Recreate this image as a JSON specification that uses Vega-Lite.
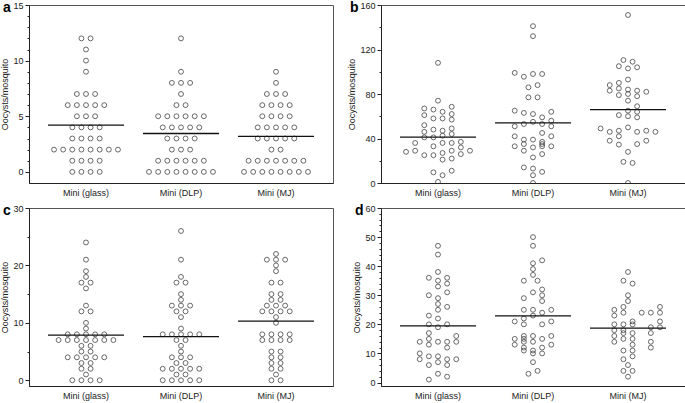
{
  "$schema": "https://vega.github.io/schema/vega-lite/v6.json",
  "background": "white",
  "padding": {"left": 0, "top": 0, "right": 0, "bottom": 0},
  "config": {
    "font": "Liberation Sans",
    "view": {"stroke": "#555", "strokeWidth": 1},
    "axis": {"labelFont": "Liberation Sans", "titleFont": "Liberation Sans", "labelFontSize": 9, "titleFontSize": 9, "titleFontWeight": "normal", "labelColor": "#222", "titleColor": "#222", "domainColor": "#222", "tickColor": "#222", "grid": false, "labelOverlap": false},
    "title": {"font": "Liberation Sans", "fontSize": 14, "fontWeight": "bold", "color": "#000", "anchor": "start", "frame": "bounds", "offset": -14, "dx": 2}
  },
  "datasets": {
    "means": [
      {"p": "a", "g": "Mini (glass)", "m": 4.2}, {"p": "a", "g": "Mini (DLP)", "m": 3.45}, {"p": "a", "g": "Mini (MJ)", "m": 3.2},
      {"p": "b", "g": "Mini (glass)", "m": 41.3}, {"p": "b", "g": "Mini (DLP)", "m": 54}, {"p": "b", "g": "Mini (MJ)", "m": 66},
      {"p": "c", "g": "Mini (glass)", "m": 7.86}, {"p": "c", "g": "Mini (DLP)", "m": 7.6}, {"p": "c", "g": "Mini (MJ)", "m": 10.3},
      {"p": "d", "g": "Mini (glass)", "m": 19.5}, {"p": "d", "g": "Mini (DLP)", "m": 22.9}, {"p": "d", "g": "Mini (MJ)", "m": 18.7}
    ],
    "a": [
      {"g": "Mini (glass)", "v": 12, "c": -0.5}, {"g": "Mini (glass)", "v": 12, "c": 0.5},
      {"g": "Mini (glass)", "v": 11, "c": 0}, {"g": "Mini (glass)", "v": 10, "c": 0}, {"g": "Mini (glass)", "v": 9, "c": 0},
      {"g": "Mini (glass)", "v": 7, "c": -1}, {"g": "Mini (glass)", "v": 7, "c": 0}, {"g": "Mini (glass)", "v": 7, "c": 1},
      {"g": "Mini (glass)", "v": 6, "c": -2}, {"g": "Mini (glass)", "v": 6, "c": -1}, {"g": "Mini (glass)", "v": 6, "c": 0}, {"g": "Mini (glass)", "v": 6, "c": 1}, {"g": "Mini (glass)", "v": 6, "c": 2},
      {"g": "Mini (glass)", "v": 5, "c": -1}, {"g": "Mini (glass)", "v": 5, "c": 0}, {"g": "Mini (glass)", "v": 5, "c": 1},
      {"g": "Mini (glass)", "v": 4, "c": -1.5}, {"g": "Mini (glass)", "v": 4, "c": -0.5}, {"g": "Mini (glass)", "v": 4, "c": 0.5}, {"g": "Mini (glass)", "v": 4, "c": 1.5},
      {"g": "Mini (glass)", "v": 3, "c": -1.5}, {"g": "Mini (glass)", "v": 3, "c": -0.5}, {"g": "Mini (glass)", "v": 3, "c": 0.5}, {"g": "Mini (glass)", "v": 3, "c": 1.5},
      {"g": "Mini (glass)", "v": 2, "c": -3.5}, {"g": "Mini (glass)", "v": 2, "c": -2.5}, {"g": "Mini (glass)", "v": 2, "c": -1.5}, {"g": "Mini (glass)", "v": 2, "c": -0.5}, {"g": "Mini (glass)", "v": 2, "c": 0.5}, {"g": "Mini (glass)", "v": 2, "c": 1.5}, {"g": "Mini (glass)", "v": 2, "c": 2.5}, {"g": "Mini (glass)", "v": 2, "c": 3.5},
      {"g": "Mini (glass)", "v": 1, "c": -1.5}, {"g": "Mini (glass)", "v": 1, "c": -0.5}, {"g": "Mini (glass)", "v": 1, "c": 0.5}, {"g": "Mini (glass)", "v": 1, "c": 1.5},
      {"g": "Mini (glass)", "v": 0, "c": -1.5}, {"g": "Mini (glass)", "v": 0, "c": -0.5}, {"g": "Mini (glass)", "v": 0, "c": 0.5}, {"g": "Mini (glass)", "v": 0, "c": 1.5},
      {"g": "Mini (DLP)", "v": 12, "c": 0}, {"g": "Mini (DLP)", "v": 9, "c": 0},
      {"g": "Mini (DLP)", "v": 8, "c": -1}, {"g": "Mini (DLP)", "v": 8, "c": 0}, {"g": "Mini (DLP)", "v": 8, "c": 1},
      {"g": "Mini (DLP)", "v": 7, "c": 0},
      {"g": "Mini (DLP)", "v": 6, "c": -0.5}, {"g": "Mini (DLP)", "v": 6, "c": 0.5},
      {"g": "Mini (DLP)", "v": 5, "c": -2.5}, {"g": "Mini (DLP)", "v": 5, "c": -1.5}, {"g": "Mini (DLP)", "v": 5, "c": -0.5}, {"g": "Mini (DLP)", "v": 5, "c": 0.5}, {"g": "Mini (DLP)", "v": 5, "c": 1.5}, {"g": "Mini (DLP)", "v": 5, "c": 2.5},
      {"g": "Mini (DLP)", "v": 4, "c": -2}, {"g": "Mini (DLP)", "v": 4, "c": -1}, {"g": "Mini (DLP)", "v": 4, "c": 0}, {"g": "Mini (DLP)", "v": 4, "c": 1}, {"g": "Mini (DLP)", "v": 4, "c": 2},
      {"g": "Mini (DLP)", "v": 3, "c": -1.5}, {"g": "Mini (DLP)", "v": 3, "c": -0.5}, {"g": "Mini (DLP)", "v": 3, "c": 0.5}, {"g": "Mini (DLP)", "v": 3, "c": 1.5},
      {"g": "Mini (DLP)", "v": 2, "c": -1}, {"g": "Mini (DLP)", "v": 2, "c": 0}, {"g": "Mini (DLP)", "v": 2, "c": 1},
      {"g": "Mini (DLP)", "v": 1, "c": -2.5}, {"g": "Mini (DLP)", "v": 1, "c": -1.5}, {"g": "Mini (DLP)", "v": 1, "c": -0.5}, {"g": "Mini (DLP)", "v": 1, "c": 0.5}, {"g": "Mini (DLP)", "v": 1, "c": 1.5}, {"g": "Mini (DLP)", "v": 1, "c": 2.5},
      {"g": "Mini (DLP)", "v": 0, "c": -3.5}, {"g": "Mini (DLP)", "v": 0, "c": -2.5}, {"g": "Mini (DLP)", "v": 0, "c": -1.5}, {"g": "Mini (DLP)", "v": 0, "c": -0.5}, {"g": "Mini (DLP)", "v": 0, "c": 0.5}, {"g": "Mini (DLP)", "v": 0, "c": 1.5}, {"g": "Mini (DLP)", "v": 0, "c": 2.5}, {"g": "Mini (DLP)", "v": 0, "c": 3.5},
      {"g": "Mini (MJ)", "v": 9, "c": 0}, {"g": "Mini (MJ)", "v": 8, "c": 0},
      {"g": "Mini (MJ)", "v": 7, "c": -1}, {"g": "Mini (MJ)", "v": 7, "c": 0}, {"g": "Mini (MJ)", "v": 7, "c": 1},
      {"g": "Mini (MJ)", "v": 6, "c": -1.5}, {"g": "Mini (MJ)", "v": 6, "c": -0.5}, {"g": "Mini (MJ)", "v": 6, "c": 0.5}, {"g": "Mini (MJ)", "v": 6, "c": 1.5},
      {"g": "Mini (MJ)", "v": 5, "c": -1.5}, {"g": "Mini (MJ)", "v": 5, "c": -0.5}, {"g": "Mini (MJ)", "v": 5, "c": 0.5}, {"g": "Mini (MJ)", "v": 5, "c": 1.5},
      {"g": "Mini (MJ)", "v": 4, "c": -2}, {"g": "Mini (MJ)", "v": 4, "c": -1}, {"g": "Mini (MJ)", "v": 4, "c": 0}, {"g": "Mini (MJ)", "v": 4, "c": 1}, {"g": "Mini (MJ)", "v": 4, "c": 2},
      {"g": "Mini (MJ)", "v": 3, "c": -2}, {"g": "Mini (MJ)", "v": 3, "c": -1}, {"g": "Mini (MJ)", "v": 3, "c": 0}, {"g": "Mini (MJ)", "v": 3, "c": 1}, {"g": "Mini (MJ)", "v": 3, "c": 2},
      {"g": "Mini (MJ)", "v": 2, "c": -0.5}, {"g": "Mini (MJ)", "v": 2, "c": 0.5},
      {"g": "Mini (MJ)", "v": 1, "c": -3}, {"g": "Mini (MJ)", "v": 1, "c": -2}, {"g": "Mini (MJ)", "v": 1, "c": -1}, {"g": "Mini (MJ)", "v": 1, "c": 0}, {"g": "Mini (MJ)", "v": 1, "c": 1}, {"g": "Mini (MJ)", "v": 1, "c": 2}, {"g": "Mini (MJ)", "v": 1, "c": 3},
      {"g": "Mini (MJ)", "v": 0, "c": -3.5}, {"g": "Mini (MJ)", "v": 0, "c": -2.5}, {"g": "Mini (MJ)", "v": 0, "c": -1.5}, {"g": "Mini (MJ)", "v": 0, "c": -0.5}, {"g": "Mini (MJ)", "v": 0, "c": 0.5}, {"g": "Mini (MJ)", "v": 0, "c": 1.5}, {"g": "Mini (MJ)", "v": 0, "c": 2.5}, {"g": "Mini (MJ)", "v": 0, "c": 3.5}
    ],
    "b": [
      {"g": "Mini (glass)", "v": 108, "c": 0}, {"g": "Mini (glass)", "v": 74, "c": 0},
      {"g": "Mini (glass)", "v": 67, "c": -1.5}, {"g": "Mini (glass)", "v": 66, "c": -0.5}, {"g": "Mini (glass)", "v": 64, "c": 0.5}, {"g": "Mini (glass)", "v": 68.5, "c": 1.5},
      {"g": "Mini (glass)", "v": 61, "c": -1.5}, {"g": "Mini (glass)", "v": 58, "c": -0.5}, {"g": "Mini (glass)", "v": 58, "c": 0.5}, {"g": "Mini (glass)", "v": 62, "c": 1.5}, {"g": "Mini (glass)", "v": 57, "c": 1.5},
      {"g": "Mini (glass)", "v": 52, "c": -1.5}, {"g": "Mini (glass)", "v": 48, "c": -0.5}, {"g": "Mini (glass)", "v": 47, "c": 0.5}, {"g": "Mini (glass)", "v": 49, "c": 1.5},
      {"g": "Mini (glass)", "v": 46, "c": -1.5}, {"g": "Mini (glass)", "v": 41, "c": -1.5}, {"g": "Mini (glass)", "v": 41, "c": -0.5}, {"g": "Mini (glass)", "v": 42.5, "c": 0.5}, {"g": "Mini (glass)", "v": 44, "c": 1.5},
      {"g": "Mini (glass)", "v": 36, "c": -2.5}, {"g": "Mini (glass)", "v": 33, "c": -0.5}, {"g": "Mini (glass)", "v": 36, "c": 0.5}, {"g": "Mini (glass)", "v": 36, "c": 1.5}, {"g": "Mini (glass)", "v": 37, "c": 2.5}, {"g": "Mini (glass)", "v": 32, "c": 2.5},
      {"g": "Mini (glass)", "v": 28, "c": -3.5}, {"g": "Mini (glass)", "v": 29, "c": -2.5}, {"g": "Mini (glass)", "v": 25, "c": -1.5}, {"g": "Mini (glass)", "v": 25, "c": -0.5}, {"g": "Mini (glass)", "v": 27, "c": 0.5}, {"g": "Mini (glass)", "v": 29, "c": 1.5}, {"g": "Mini (glass)", "v": 26, "c": 2.5}, {"g": "Mini (glass)", "v": 29, "c": 3.5},
      {"g": "Mini (glass)", "v": 21, "c": 0.5}, {"g": "Mini (glass)", "v": 22, "c": 1.5},
      {"g": "Mini (glass)", "v": 9.6, "c": -0.5}, {"g": "Mini (glass)", "v": 7, "c": 0.5}, {"g": "Mini (glass)", "v": 11, "c": 1.5}, {"g": "Mini (glass)", "v": 1, "c": 0},
      {"g": "Mini (DLP)", "v": 141, "c": 0}, {"g": "Mini (DLP)", "v": 132, "c": 0},
      {"g": "Mini (DLP)", "v": 99, "c": -2}, {"g": "Mini (DLP)", "v": 95.5, "c": -1}, {"g": "Mini (DLP)", "v": 98, "c": 0}, {"g": "Mini (DLP)", "v": 98, "c": 1},
      {"g": "Mini (DLP)", "v": 86, "c": -0.5}, {"g": "Mini (DLP)", "v": 88, "c": 0.5}, {"g": "Mini (DLP)", "v": 77, "c": -0.5}, {"g": "Mini (DLP)", "v": 77, "c": 0.5},
      {"g": "Mini (DLP)", "v": 65, "c": -2}, {"g": "Mini (DLP)", "v": 63, "c": -1}, {"g": "Mini (DLP)", "v": 62, "c": 0}, {"g": "Mini (DLP)", "v": 59, "c": 1}, {"g": "Mini (DLP)", "v": 64, "c": 2},
      {"g": "Mini (DLP)", "v": 51, "c": -2}, {"g": "Mini (DLP)", "v": 53, "c": -1}, {"g": "Mini (DLP)", "v": 55, "c": 0}, {"g": "Mini (DLP)", "v": 53, "c": 1}, {"g": "Mini (DLP)", "v": 56, "c": 2}, {"g": "Mini (DLP)", "v": 51, "c": 2},
      {"g": "Mini (DLP)", "v": 45, "c": 1},
      {"g": "Mini (DLP)", "v": 42, "c": -2}, {"g": "Mini (DLP)", "v": 39, "c": -1}, {"g": "Mini (DLP)", "v": 39, "c": 0}, {"g": "Mini (DLP)", "v": 37, "c": 1}, {"g": "Mini (DLP)", "v": 42, "c": 2},
      {"g": "Mini (DLP)", "v": 33, "c": -2}, {"g": "Mini (DLP)", "v": 35, "c": -1}, {"g": "Mini (DLP)", "v": 29, "c": -1}, {"g": "Mini (DLP)", "v": 32, "c": 0}, {"g": "Mini (DLP)", "v": 33, "c": 1}, {"g": "Mini (DLP)", "v": 35, "c": 1}, {"g": "Mini (DLP)", "v": 33, "c": 2},
      {"g": "Mini (DLP)", "v": 23, "c": 0}, {"g": "Mini (DLP)", "v": 26, "c": 1},
      {"g": "Mini (DLP)", "v": 14, "c": -1}, {"g": "Mini (DLP)", "v": 13, "c": 0}, {"g": "Mini (DLP)", "v": 10, "c": 1}, {"g": "Mini (DLP)", "v": 7, "c": 0}, {"g": "Mini (DLP)", "v": 0, "c": 0},
      {"g": "Mini (MJ)", "v": 151, "c": 0},
      {"g": "Mini (MJ)", "v": 110.5, "c": -0.5}, {"g": "Mini (MJ)", "v": 109, "c": 0.5},
      {"g": "Mini (MJ)", "v": 105, "c": -1}, {"g": "Mini (MJ)", "v": 103, "c": 0}, {"g": "Mini (MJ)", "v": 104, "c": 1},
      {"g": "Mini (MJ)", "v": 93, "c": 0},
      {"g": "Mini (MJ)", "v": 88, "c": -2}, {"g": "Mini (MJ)", "v": 90, "c": -1}, {"g": "Mini (MJ)", "v": 83, "c": -2}, {"g": "Mini (MJ)", "v": 85, "c": -1}, {"g": "Mini (MJ)", "v": 84, "c": 0}, {"g": "Mini (MJ)", "v": 83, "c": 1}, {"g": "Mini (MJ)", "v": 82, "c": 2},
      {"g": "Mini (MJ)", "v": 80, "c": 0}, {"g": "Mini (MJ)", "v": 79, "c": -1}, {"g": "Mini (MJ)", "v": 78, "c": 1}, {"g": "Mini (MJ)", "v": 74, "c": 0},
      {"g": "Mini (MJ)", "v": 69, "c": 1}, {"g": "Mini (MJ)", "v": 65, "c": 0}, {"g": "Mini (MJ)", "v": 64, "c": 1},
      {"g": "Mini (MJ)", "v": 61, "c": -1}, {"g": "Mini (MJ)", "v": 60, "c": 0}, {"g": "Mini (MJ)", "v": 59, "c": 1},
      {"g": "Mini (MJ)", "v": 50, "c": 0},
      {"g": "Mini (MJ)", "v": 49, "c": -3}, {"g": "Mini (MJ)", "v": 46, "c": -2}, {"g": "Mini (MJ)", "v": 47, "c": -1}, {"g": "Mini (MJ)", "v": 42, "c": -1}, {"g": "Mini (MJ)", "v": 46, "c": 1}, {"g": "Mini (MJ)", "v": 47, "c": 2}, {"g": "Mini (MJ)", "v": 46, "c": 3},
      {"g": "Mini (MJ)", "v": 38, "c": -2}, {"g": "Mini (MJ)", "v": 34.5, "c": -1}, {"g": "Mini (MJ)", "v": 35, "c": 1}, {"g": "Mini (MJ)", "v": 38, "c": 2},
      {"g": "Mini (MJ)", "v": 28, "c": 0}, {"g": "Mini (MJ)", "v": 19, "c": -0.5}, {"g": "Mini (MJ)", "v": 18, "c": 0.5}, {"g": "Mini (MJ)", "v": 0, "c": 0}
    ],
    "c": [
      {"g": "Mini (glass)", "v": 24, "c": 0}, {"g": "Mini (glass)", "v": 21, "c": 0}, {"g": "Mini (glass)", "v": 19, "c": 0}, {"g": "Mini (glass)", "v": 18, "c": 0},
      {"g": "Mini (glass)", "v": 17, "c": -0.5}, {"g": "Mini (glass)", "v": 17, "c": 0.5}, {"g": "Mini (glass)", "v": 16, "c": 0},
      {"g": "Mini (glass)", "v": 13, "c": 0}, {"g": "Mini (glass)", "v": 12, "c": -0.5}, {"g": "Mini (glass)", "v": 12, "c": 0.5},
      {"g": "Mini (glass)", "v": 10, "c": 0}, {"g": "Mini (glass)", "v": 9, "c": 0},
      {"g": "Mini (glass)", "v": 8, "c": -2}, {"g": "Mini (glass)", "v": 8, "c": -1}, {"g": "Mini (glass)", "v": 8, "c": 0}, {"g": "Mini (glass)", "v": 8, "c": 1}, {"g": "Mini (glass)", "v": 8, "c": 2},
      {"g": "Mini (glass)", "v": 7, "c": -3}, {"g": "Mini (glass)", "v": 7, "c": -2}, {"g": "Mini (glass)", "v": 7, "c": -1}, {"g": "Mini (glass)", "v": 7, "c": 0}, {"g": "Mini (glass)", "v": 7, "c": 1}, {"g": "Mini (glass)", "v": 7, "c": 2}, {"g": "Mini (glass)", "v": 7, "c": 3},
      {"g": "Mini (glass)", "v": 6, "c": -0.5}, {"g": "Mini (glass)", "v": 6, "c": 0.5}, {"g": "Mini (glass)", "v": 5, "c": -0.5}, {"g": "Mini (glass)", "v": 5, "c": 0.5},
      {"g": "Mini (glass)", "v": 4, "c": -2}, {"g": "Mini (glass)", "v": 4, "c": -1}, {"g": "Mini (glass)", "v": 4, "c": 0}, {"g": "Mini (glass)", "v": 4, "c": 1}, {"g": "Mini (glass)", "v": 4, "c": 2},
      {"g": "Mini (glass)", "v": 3, "c": -0.5}, {"g": "Mini (glass)", "v": 3, "c": 0.5}, {"g": "Mini (glass)", "v": 2, "c": -0.5}, {"g": "Mini (glass)", "v": 2, "c": 0.5},
      {"g": "Mini (glass)", "v": 1, "c": 0},
      {"g": "Mini (glass)", "v": 0, "c": -1.5}, {"g": "Mini (glass)", "v": 0, "c": -0.5}, {"g": "Mini (glass)", "v": 0, "c": 0.5}, {"g": "Mini (glass)", "v": 0, "c": 1.5},
      {"g": "Mini (DLP)", "v": 26, "c": 0}, {"g": "Mini (DLP)", "v": 21, "c": 0}, {"g": "Mini (DLP)", "v": 18, "c": 0},
      {"g": "Mini (DLP)", "v": 17, "c": -0.5}, {"g": "Mini (DLP)", "v": 17, "c": 0.5}, {"g": "Mini (DLP)", "v": 15, "c": 0}, {"g": "Mini (DLP)", "v": 14, "c": 0},
      {"g": "Mini (DLP)", "v": 13, "c": -1}, {"g": "Mini (DLP)", "v": 13, "c": 0}, {"g": "Mini (DLP)", "v": 13, "c": 1},
      {"g": "Mini (DLP)", "v": 12, "c": -0.5}, {"g": "Mini (DLP)", "v": 12, "c": 0.5}, {"g": "Mini (DLP)", "v": 11, "c": 0}, {"g": "Mini (DLP)", "v": 9, "c": 0},
      {"g": "Mini (DLP)", "v": 8, "c": -2}, {"g": "Mini (DLP)", "v": 8, "c": -1}, {"g": "Mini (DLP)", "v": 8, "c": 0}, {"g": "Mini (DLP)", "v": 8, "c": 1}, {"g": "Mini (DLP)", "v": 8, "c": 2},
      {"g": "Mini (DLP)", "v": 7, "c": -0.5}, {"g": "Mini (DLP)", "v": 7, "c": 0.5}, {"g": "Mini (DLP)", "v": 6, "c": 0}, {"g": "Mini (DLP)", "v": 5, "c": 0},
      {"g": "Mini (DLP)", "v": 4, "c": -1}, {"g": "Mini (DLP)", "v": 4, "c": 0}, {"g": "Mini (DLP)", "v": 4, "c": 1},
      {"g": "Mini (DLP)", "v": 3, "c": -0.5}, {"g": "Mini (DLP)", "v": 3, "c": 0.5},
      {"g": "Mini (DLP)", "v": 2, "c": -2}, {"g": "Mini (DLP)", "v": 2, "c": -1}, {"g": "Mini (DLP)", "v": 2, "c": 0}, {"g": "Mini (DLP)", "v": 2, "c": 1}, {"g": "Mini (DLP)", "v": 2, "c": 2},
      {"g": "Mini (DLP)", "v": 1, "c": -0.5}, {"g": "Mini (DLP)", "v": 1, "c": 0.5},
      {"g": "Mini (DLP)", "v": 0, "c": -2}, {"g": "Mini (DLP)", "v": 0, "c": -1}, {"g": "Mini (DLP)", "v": 0, "c": 0}, {"g": "Mini (DLP)", "v": 0, "c": 1}, {"g": "Mini (DLP)", "v": 0, "c": 2},
      {"g": "Mini (MJ)", "v": 22, "c": 0},
      {"g": "Mini (MJ)", "v": 21, "c": -1}, {"g": "Mini (MJ)", "v": 21, "c": 0}, {"g": "Mini (MJ)", "v": 21, "c": 1},
      {"g": "Mini (MJ)", "v": 20, "c": 0}, {"g": "Mini (MJ)", "v": 19, "c": 0},
      {"g": "Mini (MJ)", "v": 17, "c": -0.5}, {"g": "Mini (MJ)", "v": 17, "c": 0.5},
      {"g": "Mini (MJ)", "v": 15, "c": -0.5}, {"g": "Mini (MJ)", "v": 15, "c": 0.5},
      {"g": "Mini (MJ)", "v": 14, "c": -0.5}, {"g": "Mini (MJ)", "v": 14, "c": 0.5},
      {"g": "Mini (MJ)", "v": 13, "c": -1}, {"g": "Mini (MJ)", "v": 13, "c": 0}, {"g": "Mini (MJ)", "v": 13, "c": 1},
      {"g": "Mini (MJ)", "v": 12, "c": -1.5}, {"g": "Mini (MJ)", "v": 12, "c": -0.5}, {"g": "Mini (MJ)", "v": 12, "c": 0.5}, {"g": "Mini (MJ)", "v": 12, "c": 1.5},
      {"g": "Mini (MJ)", "v": 11, "c": 0}, {"g": "Mini (MJ)", "v": 10, "c": 0},
      {"g": "Mini (MJ)", "v": 8, "c": -1.5}, {"g": "Mini (MJ)", "v": 8, "c": -0.5}, {"g": "Mini (MJ)", "v": 8, "c": 0.5}, {"g": "Mini (MJ)", "v": 8, "c": 1.5},
      {"g": "Mini (MJ)", "v": 7, "c": -1.5}, {"g": "Mini (MJ)", "v": 7, "c": -0.5}, {"g": "Mini (MJ)", "v": 7, "c": 0.5}, {"g": "Mini (MJ)", "v": 7, "c": 1.5},
      {"g": "Mini (MJ)", "v": 5, "c": -0.5}, {"g": "Mini (MJ)", "v": 5, "c": 0.5}, {"g": "Mini (MJ)", "v": 4, "c": -0.5}, {"g": "Mini (MJ)", "v": 4, "c": 0.5},
      {"g": "Mini (MJ)", "v": 3, "c": -0.5}, {"g": "Mini (MJ)", "v": 3, "c": 0.5}, {"g": "Mini (MJ)", "v": 2, "c": -0.5}, {"g": "Mini (MJ)", "v": 2, "c": 0.5},
      {"g": "Mini (MJ)", "v": 1, "c": 0}, {"g": "Mini (MJ)", "v": 0, "c": -0.5}, {"g": "Mini (MJ)", "v": 0, "c": 0.5}
    ],
    "d": [
      {"g": "Mini (glass)", "v": 47, "c": 0}, {"g": "Mini (glass)", "v": 44, "c": 0},
      {"g": "Mini (glass)", "v": 36, "c": -1}, {"g": "Mini (glass)", "v": 38, "c": 0}, {"g": "Mini (glass)", "v": 36, "c": 1},
      {"g": "Mini (glass)", "v": 35, "c": 0}, {"g": "Mini (glass)", "v": 34, "c": 1}, {"g": "Mini (glass)", "v": 33, "c": 0}, {"g": "Mini (glass)", "v": 31, "c": 1},
      {"g": "Mini (glass)", "v": 30, "c": -1}, {"g": "Mini (glass)", "v": 29, "c": 0}, {"g": "Mini (glass)", "v": 27, "c": 0}, {"g": "Mini (glass)", "v": 26, "c": 1}, {"g": "Mini (glass)", "v": 25, "c": 0},
      {"g": "Mini (glass)", "v": 23, "c": -1}, {"g": "Mini (glass)", "v": 22, "c": 0}, {"g": "Mini (glass)", "v": 20, "c": -1}, {"g": "Mini (glass)", "v": 20, "c": 1}, {"g": "Mini (glass)", "v": 19, "c": 0},
      {"g": "Mini (glass)", "v": 17, "c": -1}, {"g": "Mini (glass)", "v": 15, "c": -1}, {"g": "Mini (glass)", "v": 16, "c": 2},
      {"g": "Mini (glass)", "v": 14, "c": -2}, {"g": "Mini (glass)", "v": 13, "c": -1}, {"g": "Mini (glass)", "v": 14, "c": 0}, {"g": "Mini (glass)", "v": 14, "c": 1}, {"g": "Mini (glass)", "v": 14, "c": 2},
      {"g": "Mini (glass)", "v": 12, "c": 1}, {"g": "Mini (glass)", "v": 10, "c": -2}, {"g": "Mini (glass)", "v": 8, "c": -2}, {"g": "Mini (glass)", "v": 9, "c": -1}, {"g": "Mini (glass)", "v": 9, "c": 0}, {"g": "Mini (glass)", "v": 8, "c": 1}, {"g": "Mini (glass)", "v": 8, "c": 2},
      {"g": "Mini (glass)", "v": 6, "c": -1}, {"g": "Mini (glass)", "v": 7, "c": 0}, {"g": "Mini (glass)", "v": 6, "c": 1},
      {"g": "Mini (glass)", "v": 3, "c": 0}, {"g": "Mini (glass)", "v": 2, "c": 1}, {"g": "Mini (glass)", "v": 1, "c": -1},
      {"g": "Mini (DLP)", "v": 50, "c": 0}, {"g": "Mini (DLP)", "v": 47, "c": 0},
      {"g": "Mini (DLP)", "v": 42, "c": 1}, {"g": "Mini (DLP)", "v": 41, "c": 0}, {"g": "Mini (DLP)", "v": 39, "c": 0}, {"g": "Mini (DLP)", "v": 37, "c": 0},
      {"g": "Mini (DLP)", "v": 35, "c": -1}, {"g": "Mini (DLP)", "v": 35, "c": 0.5},
      {"g": "Mini (DLP)", "v": 31, "c": 0}, {"g": "Mini (DLP)", "v": 32, "c": 1}, {"g": "Mini (DLP)", "v": 30, "c": 1}, {"g": "Mini (DLP)", "v": 29, "c": -1}, {"g": "Mini (DLP)", "v": 28, "c": 1},
      {"g": "Mini (DLP)", "v": 25, "c": -1}, {"g": "Mini (DLP)", "v": 25, "c": 0}, {"g": "Mini (DLP)", "v": 25, "c": 2}, {"g": "Mini (DLP)", "v": 24, "c": 1}, {"g": "Mini (DLP)", "v": 23, "c": 0},
      {"g": "Mini (DLP)", "v": 21, "c": -2}, {"g": "Mini (DLP)", "v": 22, "c": -1}, {"g": "Mini (DLP)", "v": 21, "c": 2},
      {"g": "Mini (DLP)", "v": 20, "c": -1}, {"g": "Mini (DLP)", "v": 20, "c": 1},
      {"g": "Mini (DLP)", "v": 16, "c": -1}, {"g": "Mini (DLP)", "v": 16, "c": 0}, {"g": "Mini (DLP)", "v": 16, "c": 2},
      {"g": "Mini (DLP)", "v": 15, "c": -2}, {"g": "Mini (DLP)", "v": 15, "c": -1}, {"g": "Mini (DLP)", "v": 15, "c": 1},
      {"g": "Mini (DLP)", "v": 14, "c": -1}, {"g": "Mini (DLP)", "v": 14, "c": 0},
      {"g": "Mini (DLP)", "v": 13, "c": -2}, {"g": "Mini (DLP)", "v": 13, "c": 2},
      {"g": "Mini (DLP)", "v": 12, "c": -1}, {"g": "Mini (DLP)", "v": 12, "c": 1},
      {"g": "Mini (DLP)", "v": 11, "c": -1}, {"g": "Mini (DLP)", "v": 11, "c": 0},
      {"g": "Mini (DLP)", "v": 10, "c": 0}, {"g": "Mini (DLP)", "v": 10, "c": 1},
      {"g": "Mini (DLP)", "v": 7, "c": 0}, {"g": "Mini (DLP)", "v": 3, "c": -0.5}, {"g": "Mini (DLP)", "v": 4, "c": 0.5},
      {"g": "Mini (MJ)", "v": 38, "c": 0}, {"g": "Mini (MJ)", "v": 35, "c": -0.5}, {"g": "Mini (MJ)", "v": 34, "c": 0.5},
      {"g": "Mini (MJ)", "v": 30, "c": 0}, {"g": "Mini (MJ)", "v": 28, "c": 0},
      {"g": "Mini (MJ)", "v": 26, "c": -0.5}, {"g": "Mini (MJ)", "v": 26, "c": 3.5}, {"g": "Mini (MJ)", "v": 25, "c": -1.5},
      {"g": "Mini (MJ)", "v": 24, "c": -0.5}, {"g": "Mini (MJ)", "v": 24, "c": 1.5}, {"g": "Mini (MJ)", "v": 24, "c": 2.5}, {"g": "Mini (MJ)", "v": 24, "c": 3.5},
      {"g": "Mini (MJ)", "v": 23, "c": -1.5}, {"g": "Mini (MJ)", "v": 21, "c": 0.5}, {"g": "Mini (MJ)", "v": 21, "c": 3.5},
      {"g": "Mini (MJ)", "v": 20, "c": -1.5}, {"g": "Mini (MJ)", "v": 20, "c": -0.5}, {"g": "Mini (MJ)", "v": 20, "c": 0.5},
      {"g": "Mini (MJ)", "v": 19, "c": 2.5}, {"g": "Mini (MJ)", "v": 19, "c": 3.5},
      {"g": "Mini (MJ)", "v": 18, "c": -1.5}, {"g": "Mini (MJ)", "v": 18, "c": -0.5},
      {"g": "Mini (MJ)", "v": 17, "c": -0.5}, {"g": "Mini (MJ)", "v": 17, "c": 0.5}, {"g": "Mini (MJ)", "v": 17, "c": 2.5},
      {"g": "Mini (MJ)", "v": 16, "c": -1.5}, {"g": "Mini (MJ)", "v": 15, "c": -0.5}, {"g": "Mini (MJ)", "v": 15, "c": 0.5},
      {"g": "Mini (MJ)", "v": 14, "c": -1.5}, {"g": "Mini (MJ)", "v": 14, "c": 2.5}, {"g": "Mini (MJ)", "v": 13, "c": 0.5}, {"g": "Mini (MJ)", "v": 12, "c": 2.5},
      {"g": "Mini (MJ)", "v": 11, "c": -0.5}, {"g": "Mini (MJ)", "v": 11, "c": 0.5}, {"g": "Mini (MJ)", "v": 9, "c": 0.5}, {"g": "Mini (MJ)", "v": 8, "c": -0.5},
      {"g": "Mini (MJ)", "v": 6, "c": 0}, {"g": "Mini (MJ)", "v": 4, "c": -0.5}, {"g": "Mini (MJ)", "v": 4, "c": 0.5}, {"g": "Mini (MJ)", "v": 2, "c": 0}
    ]
  },
  "columns": 2,
  "spacing": {"row": 5, "column": 13},
  "concat": [
    {
      "width": 304, "height": 178,
      "title": {"text": "a"},
      "data": {"name": "a"},
      "resolve": {"axis": {"y": "independent"}},
      "layer": [
        {
          "mark": {"type": "point", "filled": false, "size": 24, "stroke": "#444", "strokeWidth": 0.8, "opacity": 1},
          "encoding": {
            "x": {"field": "g", "type": "nominal", "sort": ["Mini (glass)", "Mini (DLP)", "Mini (MJ)"], "scale": {"paddingInner": 0, "paddingOuter": 0.1}, "axis": {"title": null, "labelAngle": 0, "ticks": false, "labelPadding": 5}},
            "xOffset": {"field": "c", "type": "quantitative", "scale": {"domain": [-5.2, 5.2]}},
            "y": {"field": "v", "type": "quantitative", "scale": {"domain": [-1, 15], "nice": false, "zero": false}, "axis": {"orient": "left", "title": "Oocysts/mosquito", "values": [0, 5, 10, 15], "tickSize": 4, "titlePadding": 3, "labelPadding": 2}}
          }
        },
        {
          "data": {"name": "means"},
          "transform": [{"filter": "datum.p === 'a'"}],
          "mark": {"type": "tick", "color": "#111", "thickness": 1.3, "size": 76, "opacity": 1},
          "encoding": {
            "x": {"field": "g", "type": "nominal", "sort": ["Mini (glass)", "Mini (DLP)", "Mini (MJ)"]},
            "y": {"field": "m", "type": "quantitative", "axis": {"orient": "left", "title": null, "labels": false, "domain": false, "values": [1, 2, 3, 4, 6, 7, 8, 9, 11, 12, 13, 14], "tickSize": 2}}
          }
        }
      ]
    },
    {
      "width": 304, "height": 178,
      "title": {"text": "b"},
      "data": {"name": "b"},
      "resolve": {"axis": {"y": "independent"}},
      "layer": [
        {
          "mark": {"type": "point", "filled": false, "size": 24, "stroke": "#444", "strokeWidth": 0.8, "opacity": 1, "clip": true},
          "encoding": {
            "x": {"field": "g", "type": "nominal", "sort": ["Mini (glass)", "Mini (DLP)", "Mini (MJ)"], "scale": {"paddingInner": 0, "paddingOuter": 0.1}, "axis": {"title": null, "labelAngle": 0, "ticks": false, "labelPadding": 5}},
            "xOffset": {"field": "c", "type": "quantitative", "scale": {"domain": [-5.2, 5.2]}},
            "y": {"field": "v", "type": "quantitative", "scale": {"domain": [0, 160], "nice": false, "zero": false}, "axis": {"orient": "left", "title": "Oocysts/mosquito", "values": [0, 40, 80, 120, 160], "tickSize": 4, "titlePadding": 3, "labelPadding": 2}}
          }
        },
        {
          "data": {"name": "means"},
          "transform": [{"filter": "datum.p === 'b'"}],
          "mark": {"type": "tick", "color": "#111", "thickness": 1.3, "size": 76, "opacity": 1},
          "encoding": {
            "x": {"field": "g", "type": "nominal", "sort": ["Mini (glass)", "Mini (DLP)", "Mini (MJ)"]},
            "y": {"field": "m", "type": "quantitative", "axis": {"orient": "left", "title": null, "labels": false, "domain": false, "values": [20, 60, 100, 140], "tickSize": 2}}
          }
        }
      ]
    },
    {
      "width": 304, "height": 178,
      "title": {"text": "c"},
      "data": {"name": "c"},
      "resolve": {"axis": {"y": "independent"}},
      "layer": [
        {
          "mark": {"type": "point", "filled": false, "size": 24, "stroke": "#444", "strokeWidth": 0.8, "opacity": 1},
          "encoding": {
            "x": {"field": "g", "type": "nominal", "sort": ["Mini (glass)", "Mini (DLP)", "Mini (MJ)"], "scale": {"paddingInner": 0, "paddingOuter": 0.1}, "axis": {"title": null, "labelAngle": 0, "ticks": false, "labelPadding": 5}},
            "xOffset": {"field": "c", "type": "quantitative", "scale": {"domain": [-5.2, 5.2]}},
            "y": {"field": "v", "type": "quantitative", "scale": {"domain": [-1, 30], "nice": false, "zero": false}, "axis": {"orient": "left", "title": "Oocysts/mosquito", "values": [0, 10, 20, 30], "tickSize": 4, "titlePadding": 3, "labelPadding": 2}}
          }
        },
        {
          "data": {"name": "means"},
          "transform": [{"filter": "datum.p === 'c'"}],
          "mark": {"type": "tick", "color": "#111", "thickness": 1.3, "size": 76, "opacity": 1},
          "encoding": {
            "x": {"field": "g", "type": "nominal", "sort": ["Mini (glass)", "Mini (DLP)", "Mini (MJ)"]},
            "y": {"field": "m", "type": "quantitative", "axis": {"orient": "left", "title": null, "labels": false, "domain": false, "values": [5, 15, 25], "tickSize": 2}}
          }
        }
      ]
    },
    {
      "width": 304, "height": 178,
      "title": {"text": "d"},
      "data": {"name": "d"},
      "resolve": {"axis": {"y": "independent"}},
      "layer": [
        {
          "mark": {"type": "point", "filled": false, "size": 24, "stroke": "#444", "strokeWidth": 0.8, "opacity": 1},
          "encoding": {
            "x": {"field": "g", "type": "nominal", "sort": ["Mini (glass)", "Mini (DLP)", "Mini (MJ)"], "scale": {"paddingInner": 0, "paddingOuter": 0.1}, "axis": {"title": null, "labelAngle": 0, "ticks": false, "labelPadding": 5}},
            "xOffset": {"field": "c", "type": "quantitative", "scale": {"domain": [-5.2, 5.2]}},
            "y": {"field": "v", "type": "quantitative", "scale": {"domain": [-1.2, 60], "nice": false, "zero": false}, "axis": {"orient": "left", "title": "Oocysts/mosquito", "values": [0, 10, 20, 30, 40, 50, 60], "tickSize": 4, "titlePadding": 3, "labelPadding": 2}}
          }
        },
        {
          "data": {"name": "means"},
          "transform": [{"filter": "datum.p === 'd'"}],
          "mark": {"type": "tick", "color": "#111", "thickness": 1.3, "size": 76, "opacity": 1},
          "encoding": {
            "x": {"field": "g", "type": "nominal", "sort": ["Mini (glass)", "Mini (DLP)", "Mini (MJ)"]},
            "y": {"field": "m", "type": "quantitative", "axis": {"orient": "left", "title": null, "labels": false, "domain": false, "values": [2, 4, 6, 8, 12, 14, 16, 18, 22, 24, 26, 28, 32, 34, 36, 38, 42, 44, 46, 48, 52, 54, 56, 58], "tickSize": 2}}
          }
        }
      ]
    }
  ]
}
